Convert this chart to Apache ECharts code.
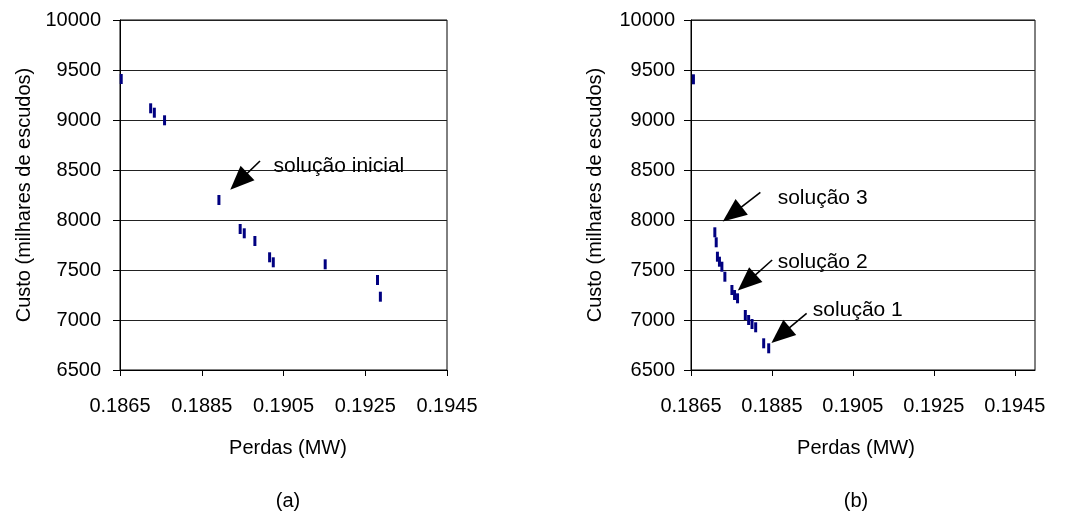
<!DOCTYPE html>
<html lang="pt">
<head>
<meta charset="UTF-8">
<title>Custo vs Perdas</title>
<script src="https://cdn.jsdelivr.net/npm/echarts@6.0.0/dist/echarts.min.js"></script>
<style>
  html, body { margin: 0; padding: 0; background: #fff; }
  #viz { width: 1070px; height: 513px; }
</style>
</head>
<body>
<div id="viz"></div>
<script>
// chart (a): solutions found
const leftX = [0.18653, 0.18725, 0.18734, 0.18759, 0.18892, 0.18944, 0.18954, 0.18980, 0.19016, 0.19025, 0.19152, 0.19280, 0.19287];
const leftY = [9410, 9117, 9073, 8997, 8200, 7910, 7867, 7790, 7627, 7577, 7557, 7400, 7233];

// chart (b)
const rightX = [0.18656, 0.187089, 0.187123, 0.187153, 0.187203, 0.187263, 0.187337, 0.187511, 0.187576, 0.187650, 0.187842, 0.187924, 0.188008, 0.188098, 0.188296, 0.188420];
const rightY = [9407, 7877, 7777, 7633, 7583, 7533, 7433, 7300, 7250, 7217, 7050, 7000, 6960, 6927, 6767, 6717];

const xTicks = [0.1865, 0.1885, 0.1905, 0.1925, 0.1945];

// annotations: [label, textX, textY, lineStartX, lineStartY, arrowX, arrowY]
const leftNotes = [
  ['solução inicial', 0.190243, 8540, 0.189925, 8590, 0.189409, 8386]
];
const rightNotes = [
  ['solução 3', 0.188629, 8217, 0.188214, 8277, 0.187519, 8058],
  ['solução 2', 0.188629, 7573, 0.188505, 7600, 0.187879, 7374],
  ['solução 1', 0.189499, 7100, 0.189357, 7067, 0.188714, 6848]
];

const font = 'Liberation Sans, Arial, sans-serif';
const fs = 20;

const zip = (xs, ys) => xs.map((x, i) => [x, ys[i]]);

const makeX = (idx, max) => ({
  type: 'value', gridIndex: idx, min: 0.1865, max: max, interval: 0.002,
  axisLine: { show: true, lineStyle: { color: '#000', width: 1 } },
  axisTick: { show: true, length: 6, customValues: xTicks, lineStyle: { color: '#000' } },
  axisLabel: {
    customValues: xTicks, margin: 26, color: '#000', fontSize: fs, fontFamily: font,
    formatter: v => v.toFixed(4)
  },
  splitLine: { show: false }
});

const makeY = (idx, margin) => ({
  type: 'value', gridIndex: idx, min: 6500, max: 10000, interval: 500,
  name: 'Custo (milhares de escudos)', nameLocation: 'middle', nameGap: 86,
  nameTextStyle: { color: '#000', fontSize: fs, fontFamily: font },
  axisLine: { show: true, lineStyle: { color: '#000', width: 1 } },
  axisTick: { show: true, length: 7, lineStyle: { color: '#000' } },
  axisLabel: { margin: margin, color: '#000', fontSize: fs, fontFamily: font, formatter: v => String(v) },
  splitLine: { show: true, lineStyle: { color: '#222', width: 1 } }
});

const arrows = notes => ({
  silent: true, animation: false,
  symbol: ['none', 'triangle'], symbolSize: [20, 24],
  lineStyle: { color: '#000', width: 1.6, type: 'solid', opacity: 1 },
  itemStyle: { color: '#000' },
  label: { show: false },
  data: notes.map(n => [{ coord: [n[3], n[4]] }, { coord: [n[5], n[6]] }])
});

const texts = notes => ({
  silent: true, animation: false,
  symbol: 'circle', symbolSize: 1,
  itemStyle: { color: 'rgba(0,0,0,0)' },
  label: {
    show: true, position: 'right', distance: 0, color: '#000',
    fontSize: 21, fontFamily: font,
    formatter: p => p.name
  },
  data: notes.map(n => ({ name: n[0], coord: [n[1], n[2]] }))
});

const pointSeries = (idx, data, notes) => ({
  type: 'scatter', xAxisIndex: idx, yAxisIndex: idx,
  symbol: 'rect', symbolSize: [3, 10],
  itemStyle: { color: '#000080', opacity: 1 },
  data: data,
  markLine: arrows(notes),
  markPoint: texts(notes)
});

const caption = (text, x, y) => ({
  text: text, left: x, top: y, textAlign: 'center',
  textStyle: { color: '#000', fontSize: fs, fontWeight: 'normal', fontFamily: font }
});

const option = {
  backgroundColor: '#fff',
  animation: false,
  title: [
    caption('Perdas (MW)', 283, 433),
    caption('(a)', 283, 486),
    caption('Perdas (MW)', 851, 433),
    caption('(b)', 851, 486)
  ],
  grid: [
    { left: 120, right: 623, top: 20, bottom: 143, show: true, borderColor: '#000', borderWidth: 1 },
    { left: 691, right: 35, top: 20, bottom: 143, show: true, borderColor: '#000', borderWidth: 1 }
  ],
  xAxis: [makeX(0, 0.1945), makeX(1, 0.195)],
  yAxis: [makeY(0, 19), makeY(1, 16)],
  series: [
    pointSeries(0, zip(leftX, leftY), leftNotes),
    pointSeries(1, zip(rightX, rightY), rightNotes)
  ]
};

const chart = echarts.init(document.getElementById('viz'), null, { renderer: 'canvas' });
chart.setOption(option);
window.onresize = () => chart.resize();
</script>
</body>
</html>
